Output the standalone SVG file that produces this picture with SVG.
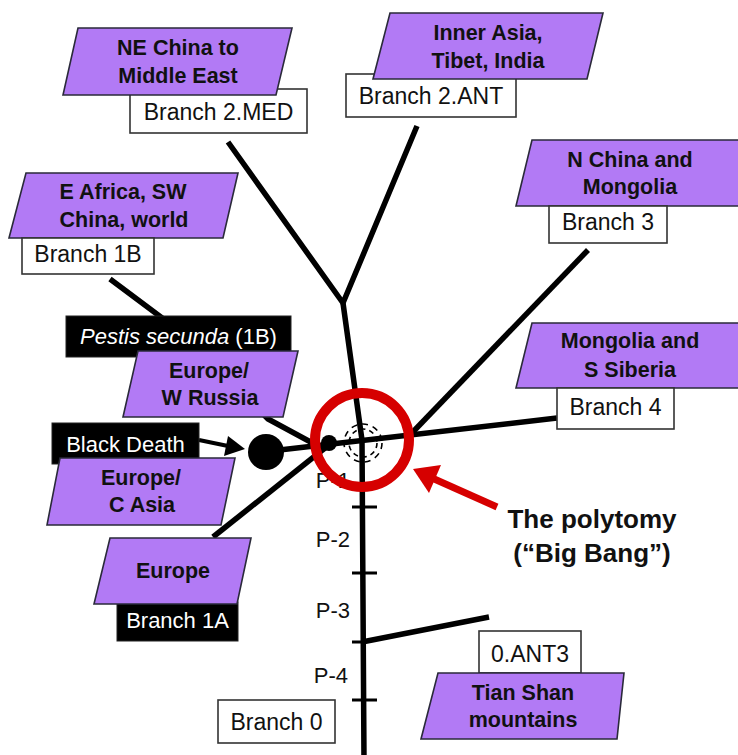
<svg xmlns="http://www.w3.org/2000/svg" width="738" height="755" viewBox="0 0 738 755">
<defs>
<style>
.bg{fill:#ffffff}
.ln{stroke:#000;stroke-width:5.5;fill:none;stroke-linecap:butt}
.tk{stroke:#000;stroke-width:3;fill:none}
.pg{fill:#b27af5;stroke:#2a2a3a;stroke-width:1.6}
.wb{fill:#fff;stroke:#333;stroke-width:1.6}
.bb{fill:#000;stroke:#222;stroke-width:1}
.pt{font-family:"Liberation Sans",Arial,sans-serif;font-weight:bold;font-size:21.5px;fill:#111;text-anchor:middle}
.lt{font-family:"Liberation Sans",Arial,sans-serif;font-size:23px;fill:#111;text-anchor:middle}
.wt{font-family:"Liberation Sans",Arial,sans-serif;font-size:22px;fill:#fff;text-anchor:middle}
.pl{font-family:"Liberation Sans",Arial,sans-serif;font-size:22px;fill:#111;text-anchor:end}
.rd{stroke:#d60000;fill:none}
.big{font-family:"Liberation Sans",Arial,sans-serif;font-weight:bold;font-size:26px;fill:#111;text-anchor:middle}
</style>
</defs>
<rect class="bg" x="0" y="0" width="738" height="755"/>

<g id="connectors">
  <path class="ln" d="M343,303 L362,440 L364,760"/>
  <path class="ln" d="M228,142 L343,303 L417,126"/>
  <path class="ln" d="M262,452 L557,418"/>
  <path class="ln" d="M409,436 L588,250"/>
  <path class="ln" d="M110,279 L185,335 L268,419 L318,446"/>
  <path class="ln" d="M213,537 L330,444"/>
  <path class="ln" d="M362,642 L489,617"/>
  <path class="tk" d="M352,507 H377 M352,573 H377 M352,642 H364 M352,700 H377"/>
  <path d="M199,440 L228,446" stroke="#000" stroke-width="4"/>
  <polygon points="245,449 224,456 228,436" fill="#000"/>
  <circle cx="266" cy="452" r="18" fill="#000"/>
  <circle cx="329" cy="443" r="8" fill="#000"/>
</g>

<g id="p-labels">
  <text class="pl" x="350" y="488">P-1</text>
  <text class="pl" x="350" y="547">P-2</text>
  <text class="pl" x="350" y="618">P-3</text>
  <text class="pl" x="348" y="683">P-4</text>
</g>

<g id="node-2med">
  <rect class="wb" x="130" y="89" width="177" height="44"/>
  <text class="lt" x="218.5" y="120">Branch 2.MED</text>
  <polygon class="pg" points="78,28 292,28 276,95 63,95"/>
  <text class="pt" x="178" y="55">NE China to</text>
  <text class="pt" x="178" y="83">Middle East</text>
</g>

<g id="node-2ant">
  <rect class="wb" x="346" y="74" width="170" height="43"/>
  <text class="lt" x="431" y="104">Branch 2.ANT</text>
  <polygon class="pg" points="390,13 603,13 587,79 373,79"/>
  <text class="pt" x="488" y="40">Inner Asia,</text>
  <text class="pt" x="488" y="68">Tibet, India</text>
</g>

<g id="node-1b">
  <polygon class="pg" points="26,173 238,173 223,238 9,238"/>
  <text class="pt" x="123" y="199">E Africa, SW</text>
  <text class="pt" x="124" y="227">China, world</text>
  <rect class="wb" x="22" y="238" width="132" height="36"/>
  <text class="lt" x="88" y="262">Branch 1B</text>
</g>

<g id="node-3">
  <polygon class="pg" points="532,140 760,140 745,206 516,206"/>
  <text class="pt" x="630" y="167">N China and</text>
  <text class="pt" x="630" y="194">Mongolia</text>
  <rect class="wb" x="549" y="206" width="118" height="37"/>
  <text class="lt" x="608" y="230">Branch 3</text>
</g>

<g id="node-4">
  <polygon class="pg" points="532,323 760,323 745,388 516,388"/>
  <text class="pt" x="630" y="348">Mongolia and</text>
  <text class="pt" x="630" y="377">S Siberia</text>
  <rect class="wb" x="557" y="388" width="117" height="41"/>
  <text class="lt" x="615.5" y="415">Branch 4</text>
</g>

<g id="node-pestis">
  <rect class="bb" x="66" y="316" width="225" height="41"/>
  <text class="wt" x="178.5" y="344"><tspan font-style="italic">Pestis secunda</tspan> (1B)</text>
</g>

<g id="node-wrussia">
  <polygon class="pg" points="138,351 298,351 283,417 123,417"/>
  <text class="pt" x="209" y="378">Europe/</text>
  <text class="pt" x="210" y="405">W Russia</text>
</g>

<g id="node-blackdeath">
  <rect class="bb" x="52" y="423" width="147" height="41"/>
  <text class="wt" x="125.5" y="452">Black Death</text>
</g>

<g id="node-casia">
  <polygon class="pg" points="60,458 235,458 221,525 47,525"/>
  <text class="pt" x="141" y="485">Europe/</text>
  <text class="pt" x="142" y="512">C Asia</text>
</g>

<g id="node-1a">
  <rect class="bb" x="117" y="602" width="121" height="39"/>
  <text class="wt" x="177.5" y="628">Branch 1A</text>
  <polygon class="pg" points="110,538 251,538 237,604 94,604"/>
  <text class="pt" x="173" y="578">Europe</text>
</g>

<g id="node-0">
  <rect class="wb" x="218" y="700" width="117" height="43"/>
  <text class="lt" x="276.5" y="730">Branch 0</text>
</g>

<g id="node-0ant3">
  <rect class="wb" x="479" y="631" width="102" height="42"/>
  <text class="lt" x="530" y="662">0.ANT3</text>
  <polygon class="pg" points="438,673 624,673 617,739 421,739"/>
  <text class="pt" x="523" y="700">Tian Shan</text>
  <text class="pt" x="523" y="727">mountains</text>
</g>

<g id="polytomy">
  <circle cx="363" cy="443" r="14" fill="none" stroke="#000" stroke-width="1.6" stroke-dasharray="5 4"/>
  <circle cx="363" cy="443" r="19" fill="none" stroke="#000" stroke-width="1.6" stroke-dasharray="6 5"/>
  <circle class="rd" cx="362" cy="440" r="47" stroke-width="10"/>
  <path class="rd" d="M497,507 L432,478" stroke-width="7"/>
  <polygon points="413,469 441,465 429,493" fill="#d60000"/>
  <text class="big" x="592" y="528">The polytomy</text>
  <text class="big" x="592" y="562">(“Big Bang”)</text>
</g>
</svg>
